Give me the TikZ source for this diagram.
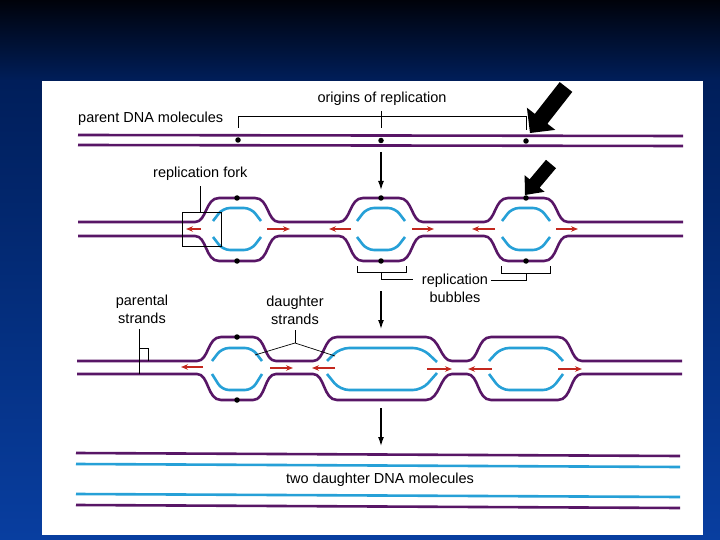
\documentclass[tikz,border=0pt]{standalone}
\usepackage{fontspec}
\setmainfont{Liberation Sans}
\usetikzlibrary{arrows.meta}
\definecolor{purp}{RGB}{88,22,102}
\definecolor{dblue}{RGB}{38,160,215}
\definecolor{fred}{RGB}{195,40,30}
\definecolor{bgA}{RGB}{0,2,10}
\definecolor{bgB}{RGB}{0,30,90}
\definecolor{bgC}{RGB}{8,62,160}
\begin{document}
\begin{tikzpicture}[x=1pt,y=-1pt,
  strand/.style={draw=purp,line width=2.6pt},
  newstrand/.style={draw=dblue,line width=2.6pt,rounded corners=7pt},
  forkarrow/.style={draw=fred,line width=1.1pt,-{Stealth[length=7pt,width=5.5pt]}},
  procarrow/.style={draw=black,line width=1.3pt,-{Latex[length=9pt,width=6pt]}},
  guide/.style={draw=black,line width=0.7pt},
  lbl/.style={font=\fontsize{14.5}{18}\selectfont,inner sep=0pt},
  dot/.style={circle,fill=black,inner sep=0pt,minimum size=5.5pt},
  blockarrow/.style={fill=black}]
\useasboundingbox (0,0) rectangle (720,540);
% background
\fill[top color=bgA,bottom color=bgB] (0,0) rectangle (720,81);
\fill[top color=bgB,bottom color=bgC] (0,81) rectangle (720,540);
\fill[white] (42,81) rectangle (703,535);

% labels
\node[lbl,anchor=base west] (parent) at (78,123) {parent DNA molecules};
\node[lbl,anchor=base] (origins) at (382,103) {origins of replication};
\node[lbl,anchor=base west] (forklbl) at (153,178) {replication fork};
\node[lbl,anchor=base] (bubA) at (455,284) {replication};
\node[lbl,anchor=base] (bubB) at (455,302) {bubbles};
\node[lbl,anchor=base] (parA) at (142,305) {parental};
\node[lbl,anchor=base] (parB) at (142,323) {strands};
\node[lbl,anchor=base] (dauA) at (295,306) {daughter};
\node[lbl,anchor=base] (dauB) at (295,324) {strands};
\node[lbl,anchor=base] (two) at (380,483) {two daughter DNA molecules};

% row 1: parent DNA
\draw[strand] (78,135) -- (683,136);
\draw[strand] (78,145) -- (683,146);
\node[dot] (o1) at (238,140) {};
\node[dot] (o2) at (381,140.5) {};
\node[dot] (o3) at (526,141) {};
\draw[guide] (238,128) -- (238,116) -- (526,116) -- (526,130);
\draw[guide] (381,111) -- (381,128);

% row 2
\draw[strand] (78,222) -- (195,222) .. controls (207,222) and (205,198) .. (219,198) -- (255,198) .. controls (269,198) and (267,222) .. (279,222)
  -- (339,222) .. controls (351,222) and (349,198) .. (363,198) -- (399,198) .. controls (413,198) and (411,222) .. (423,222)
  -- (484,222) .. controls (496,222) and (494,198) .. (508,198) -- (544,198) .. controls (558,198) and (556,222) .. (568,222) -- (683,222);
\draw[strand] (78,236) -- (195,236) .. controls (207,236) and (205,261) .. (219,261) -- (255,261) .. controls (269,261) and (267,236) .. (279,236)
  -- (339,236) .. controls (351,236) and (349,261) .. (363,261) -- (399,261) .. controls (413,261) and (411,236) .. (423,236)
  -- (484,236) .. controls (496,236) and (494,261) .. (508,261) -- (544,261) .. controls (558,261) and (556,236) .. (568,236) -- (683,236);
\foreach \c in {237,381,526}{
  \draw[newstrand] (\c-24,221) -- (\c-14,208) -- (\c+14,208) -- (\c+24,221);
  \draw[newstrand] (\c-24,237) -- (\c-14,250) -- (\c+14,250) -- (\c+24,237);
}
\node[dot] (b1t) at (237,198) {};
\node[dot] (b1b) at (237,261) {};
\node[dot] (b2t) at (381,198) {};
\node[dot] (b2b) at (381,261) {};
\node[dot] (b3t) at (526,198) {};
\node[dot] (b3b) at (526,261) {};
\draw[forkarrow] (201,229) -- (186,229);
\draw[forkarrow] (267,229) -- (290,229);
\draw[forkarrow] (351,229) -- (329,229);
\draw[forkarrow] (412,229) -- (434,229);
\draw[forkarrow] (495,229) -- (472,229);
\draw[forkarrow] (556,229) -- (578,229);
% replication fork box
\draw[guide] (182,212) rectangle (221,246);
\draw[guide] (200,212) -- (200,186);
% replication bubble brackets
\draw[guide] (357,266) -- (357,272) -- (406,272) -- (406,266);
\draw[guide] (381,272) -- (381,279) -- (413,279);
\draw[guide] (501,266) -- (501,273) -- (550,273) -- (550,266);
\draw[guide] (526,273) -- (526,280) -- (491,280);

% row 3
\draw[strand] (77,361) -- (197,361) .. controls (209,361) and (207,337) .. (221,337) -- (253,337) .. controls (266,337) and (264,361) .. (276,361)
  -- (313,361) .. controls (325,361) and (323,337) .. (337,337) -- (426,337) .. controls (440,337) and (440,361) .. (452,361)
  -- (467,361) .. controls (479,361) and (477,337) .. (491,337) -- (558,337) .. controls (572,337) and (570,361) .. (582,361) -- (682,361);
\draw[strand] (77,374) -- (197,374) .. controls (209,374) and (207,400) .. (221,400) -- (253,400) .. controls (266,400) and (264,374) .. (276,374)
  -- (313,374) .. controls (325,374) and (323,400) .. (337,400) -- (426,400) .. controls (440,400) and (440,374) .. (452,374)
  -- (467,374) .. controls (479,374) and (477,400) .. (491,400) -- (558,400) .. controls (572,400) and (570,374) .. (582,374) -- (682,374);
\draw[newstrand] (212,361) -- (222,348) -- (252,348) -- (262,361);
\draw[newstrand] (212,374) -- (222,390) -- (252,390) -- (262,374);
\draw[newstrand,rounded corners=9pt] (327,361) -- (340,348) -- (422,348) -- (437,362);
\draw[newstrand,rounded corners=9pt] (327,374) -- (340,390) -- (422,390) -- (437,373);
\draw[newstrand,rounded corners=8pt] (489,361) -- (501,348) -- (551,348) -- (563,361);
\draw[newstrand,rounded corners=8pt] (489,374) -- (501,390) -- (551,390) -- (563,374);
\node[dot] (a1t) at (237,337) {};
\node[dot] (a1b) at (237,400) {};
\draw[forkarrow] (203,367) -- (181,367);
\draw[forkarrow] (270,368) -- (293,368);
\draw[forkarrow] (335,368) -- (312,368);
\draw[forkarrow] (427,369) -- (452,369);
\draw[forkarrow] (492,369) -- (468,369);
\draw[forkarrow] (558,369) -- (582,369);
% parental strands marker
\draw[guide] (139,329) -- (139,374);
\draw[guide] (139,348) -- (148,348) -- (148,361);
% daughter strands marker
\coordinate (dapex) at (295,343);
\draw[guide] (295,330) -- (dapex);
\draw[guide] (255,355) -- (dapex) -- (335,356);

% process arrows
\coordinate (p1s) at (381,152); \coordinate (p1e) at (381,190);
\coordinate (p2s) at (381,291); \coordinate (p2e) at (381,329);
\coordinate (p3s) at (381,408); \coordinate (p3e) at (381,446);
\draw[procarrow] (p1s) -- (p1e);
\draw[procarrow] (p2s) -- (p2e);
\draw[procarrow] (p3s) -- (p3e);

% bottom: two daughter molecules
\draw[strand] (76,453) -- (680,456);
\draw[newstrand] (76,464) -- (680,467);
\draw[newstrand] (76,494) -- (680,497);
\draw[strand] (76,505) -- (680,508);

% black block arrows
\fill[blockarrow] (530,133) -- (555.3,129.9) -- (547.4,123.7) -- (572.3,91.9) -- (559.7,82.1) -- (534.8,113.9) -- (526.9,107.7) -- cycle;
\fill[blockarrow] (525,195) -- (544.6,191.8) -- (539.6,187.7) -- (556.0,168.2) -- (546.0,159.8) -- (529.6,179.3) -- (524.6,175.2) -- cycle;
\end{tikzpicture}
\end{document}
